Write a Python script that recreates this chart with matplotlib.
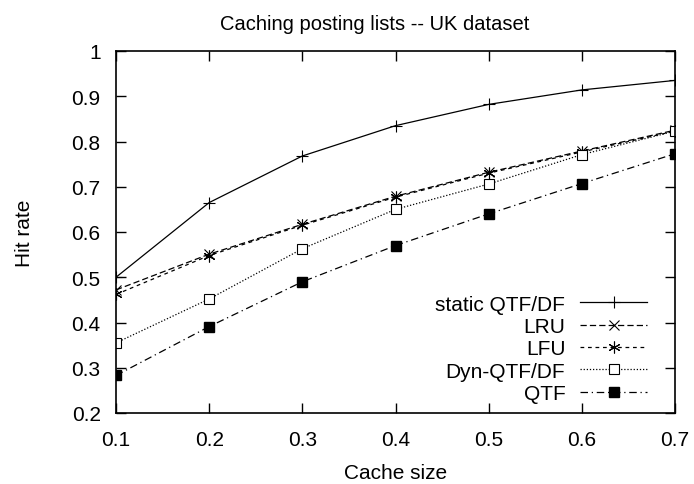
import matplotlib
matplotlib.use("Agg")
import matplotlib.pyplot as plt

plt.rcParams['font.family'] = ['Liberation Sans', 'DejaVu Sans']

cache_size = [0.1, 0.2, 0.3, 0.4, 0.5, 0.6, 0.7]
static_qtf_df = [0.500, 0.665, 0.768, 0.835, 0.882, 0.914, 0.935]
lru = [0.472, 0.551, 0.617, 0.679, 0.732, 0.779, 0.825]
lfu = [0.462, 0.548, 0.615, 0.677, 0.730, 0.777, 0.823]
dyn_qtf_df = [0.355, 0.452, 0.563, 0.650, 0.706, 0.771, 0.823]
qtf = [0.283, 0.391, 0.490, 0.570, 0.640, 0.707, 0.773]

W, H = 694, 485
fig = plt.figure(figsize=(W / 100, H / 100), dpi=100)
L, R, T, B = 116, 675, 52, 414
ax = fig.add_axes([L / W, (H - B) / H, (R - L) / W, (B - T) / H])

lw = 0.9
ax.plot(cache_size, static_qtf_df, color='black', lw=lw, marker='+', ms=8, mew=0.8,
        label='static QTF/DF')
ax.plot(cache_size, lru, color='black', lw=lw, ls=(0, (5, 2.5)), marker='x', ms=7, mew=0.8,
        label='LRU')
ax.plot(cache_size, lfu, color='black', lw=lw, ls=(0, (3, 3)), marker=(6, 2, 0), ms=8.5, mew=0.8,
        label='LFU')
ax.plot(cache_size, dyn_qtf_df, color='black', lw=lw, ls=(0, (1, 1.5)), marker='s', ms=7,
        mfc='white', mec='black', mew=0.8, label='Dyn-QTF/DF')
ax.plot(cache_size, qtf, color='black', lw=lw, ls=(0, (6, 3, 1, 3)), marker='s', ms=7,
        mfc='black', mec='black', label='QTF')

ax.set_xlim(0.1, 0.7)
ax.set_ylim(0.2, 1.0)
ax.set_xticks(cache_size)
ax.set_xticklabels(['0.1', '0.2', '0.3', '0.4', '0.5', '0.6', '0.7'])
yt = [0.2, 0.3, 0.4, 0.5, 0.6, 0.7, 0.8, 0.9, 1.0]
ax.set_yticks(yt)
ax.set_yticklabels(['0.2', '0.3', '0.4', '0.5', '0.6', '0.7', '0.8', '0.9', '1'])
ax.tick_params(direction='in', top=True, right=True, length=7, width=1, labelsize=15)
ax.tick_params(axis='x', pad=12)
ax.tick_params(axis='y', pad=11)
for s in ax.spines.values():
    s.set_linewidth(1.2)

ax.set_xlabel('Cache size', fontsize=15, labelpad=10)
ax.set_ylabel('Hit rate', fontsize=15, labelpad=27)
ax.set_title('Caching posting lists -- UK dataset', fontsize=14.5, pad=15.5,
             x=(375 - L) / (R - L))

leg = ax.legend(loc='lower right', frameon=False, markerfirst=False, fontsize=15,
                handlelength=3.2, labelspacing=0.16, handletextpad=0.72,
                bbox_to_anchor=((647 - L) / (R - L), (B - 404) / (B - T)),
                borderaxespad=0, borderpad=0)

fig.savefig('out.png', dpi=100)
